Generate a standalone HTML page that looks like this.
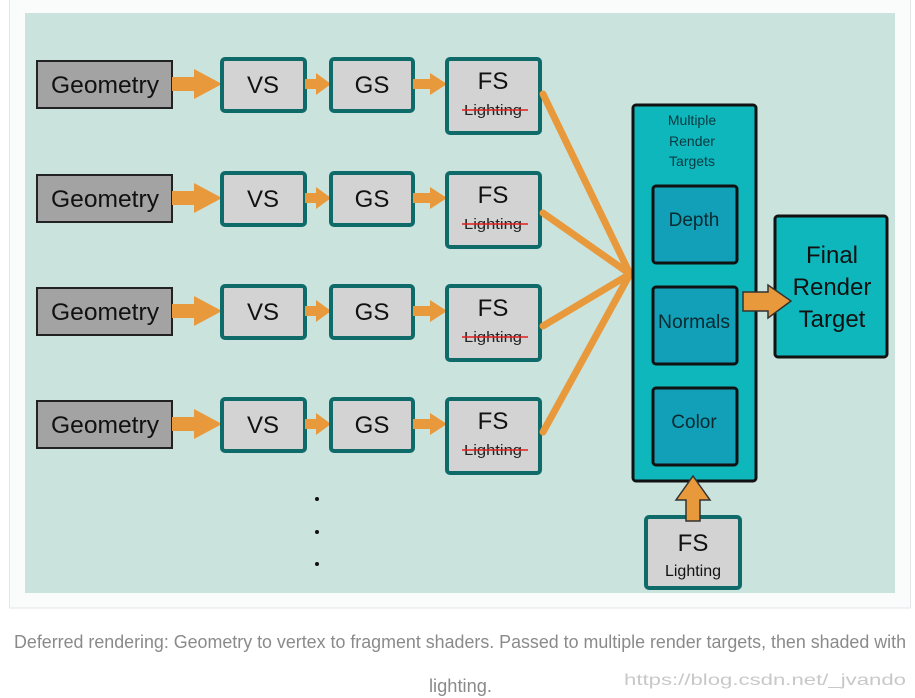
<!DOCTYPE html>
<html><head><meta charset="utf-8"><style>
html,body{margin:0;padding:0;background:#fff;width:915px;height:698px;overflow:hidden}
svg{display:block}
text{font-family:"Liberation Sans",Arial,sans-serif}
</style></head><body>
<svg width="915" height="698" viewBox="0 0 915 698" xmlns="http://www.w3.org/2000/svg">
<rect x="9.5" y="-1" width="901" height="609" fill="#fafbfb" stroke="#e3e6e8"/>
<rect x="25" y="13" width="870" height="580" fill="#cbe3dd"/>
<defs>
<g id="row">
  <rect x="37" y="-23" width="135" height="47" fill="#a3a3a3" stroke="#222" stroke-width="2"/>
  <text x="105" y="9" font-size="24" text-anchor="middle" fill="#111" textLength="108" lengthAdjust="spacingAndGlyphs">Geometry</text>
  <rect x="172" y="-7" width="28" height="14" fill="#e8993b"/>
  <polygon points="194,-15 222,0 194,15" fill="#e8993b"/>
  <rect x="222" y="-25" width="83" height="52" rx="3" fill="#d3d3d3" stroke="#0f6a6a" stroke-width="4"/>
  <text x="263" y="9" font-size="24" text-anchor="middle" fill="#111">VS</text>
  <rect x="305" y="-5" width="15" height="10" fill="#e8993b"/>
  <polygon points="316,-11 331,0 316,11" fill="#e8993b"/>
  <rect x="331" y="-25" width="82" height="52" rx="3" fill="#d3d3d3" stroke="#0f6a6a" stroke-width="4"/>
  <text x="372" y="9" font-size="24" text-anchor="middle" fill="#111">GS</text>
  <rect x="413" y="-5" width="21" height="10" fill="#e8993b"/>
  <polygon points="430,-11 447,0 430,11" fill="#e8993b"/>
  <rect x="447" y="-25" width="93" height="74" rx="3" fill="#d3d3d3" stroke="#0f6a6a" stroke-width="4"/>
  <text x="493" y="5" font-size="24" text-anchor="middle" fill="#111">FS</text>
  <text x="493" y="31" font-size="15" text-anchor="middle" fill="#222" textLength="58" lengthAdjust="spacingAndGlyphs">Lighting</text>
  <line x1="462" y1="26" x2="528" y2="26" stroke="#e02020" stroke-width="1.5"/>
</g>
</defs>
<use href="#row" y="84"/>
<use href="#row" y="198"/>
<use href="#row" y="311"/>
<use href="#row" y="424"/>
<g stroke="#e8993b" stroke-width="7" stroke-linecap="round">
<line x1="543" y1="94" x2="630" y2="274"/>
<line x1="543" y1="213" x2="630" y2="274"/>
<line x1="543" y1="326" x2="630" y2="274"/>
<line x1="543" y1="432" x2="630" y2="274"/>
</g>
<circle cx="317" cy="499" r="2" fill="#111"/>
<circle cx="317" cy="532" r="2" fill="#111"/>
<circle cx="317" cy="564" r="2" fill="#111"/>
<rect x="633" y="105" width="123" height="376" rx="3" fill="#0eb7bc" stroke="#111" stroke-width="3"/>
<text x="692" y="125" font-size="14" text-anchor="middle" fill="#0a3a40">Multiple</text>
<text x="692" y="146" font-size="14" text-anchor="middle" fill="#0a3a40">Render</text>
<text x="692" y="166" font-size="14" text-anchor="middle" fill="#0a3a40">Targets</text>
<rect x="653" y="186" width="84" height="77" rx="3" fill="#129fb8" stroke="#111" stroke-width="3"/>
<text x="694" y="226" font-size="19" text-anchor="middle" fill="#0a2a30">Depth</text>
<rect x="653" y="287" width="84" height="77" rx="3" fill="#129fb8" stroke="#111" stroke-width="3"/>
<text x="694" y="328" font-size="19" text-anchor="middle" fill="#0a2a30" textLength="72" lengthAdjust="spacingAndGlyphs">Normals</text>
<rect x="653" y="388" width="84" height="77" rx="3" fill="#129fb8" stroke="#111" stroke-width="3"/>
<text x="694" y="428" font-size="19" text-anchor="middle" fill="#0a2a30">Color</text>
<rect x="775" y="216" width="112" height="141" rx="3" fill="#0eb7bc" stroke="#111" stroke-width="3"/>
<text x="832" y="263" font-size="24" text-anchor="middle" fill="#111">Final</text>
<text x="832" y="295" font-size="24" text-anchor="middle" fill="#111">Render</text>
<text x="832" y="327" font-size="24" text-anchor="middle" fill="#111">Target</text>
<polygon points="743,292 768,292 768,285 791,301 768,318 768,311 743,311" fill="#e8993b" stroke="#333" stroke-width="1.5"/>
<rect x="646" y="517" width="94" height="71" rx="3" fill="#d3d3d3" stroke="#0f6a6a" stroke-width="4"/>
<text x="693" y="551" font-size="24" text-anchor="middle" fill="#111">FS</text>
<text x="693" y="576" font-size="16" text-anchor="middle" fill="#111">Lighting</text>
<polygon points="686,521 686,500 676,500 693,476 710,500 700,500 700,521" fill="#e8993b" stroke="#333" stroke-width="1.5"/>
<text x="14" y="648" font-size="18" fill="#8a8a8a" textLength="892" lengthAdjust="spacingAndGlyphs">Deferred rendering: Geometry to vertex to fragment shaders. Passed to multiple render targets, then shaded with</text>
<text x="429" y="692" font-size="18" fill="#8a8a8a" textLength="63" lengthAdjust="spacingAndGlyphs">lighting.</text>
<text x="624" y="685" font-size="16" fill="#c8c8c8" font-family="Liberation Mono" textLength="282" lengthAdjust="spacingAndGlyphs">https://blog.csdn.net/_jvando</text>
</svg>
</body></html>
